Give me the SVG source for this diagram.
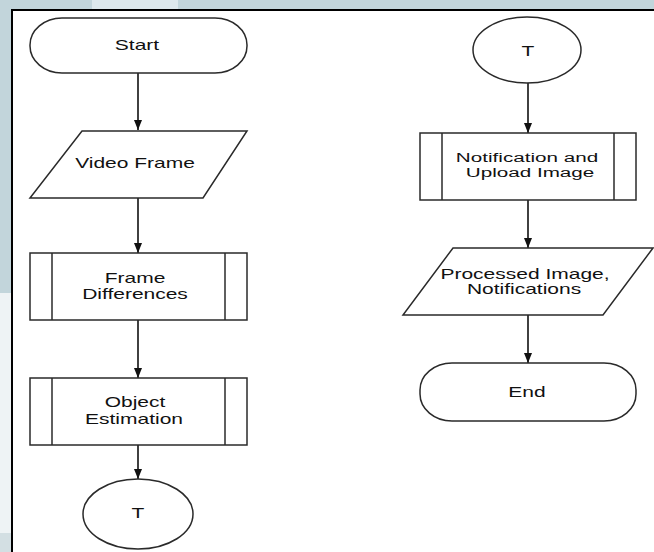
<svg xmlns="http://www.w3.org/2000/svg" width="654" height="552" viewBox="0 0 654 552">
  <defs>
    <style>
      .shape { fill: #ffffff; stroke: #2a2a2a; stroke-width: 1.5; }
      .bar { stroke: #2a2a2a; stroke-width: 1.5; fill: none; }
      .edge { stroke: #111111; stroke-width: 1.6; fill: none; marker-end: url(#arrow); }
      .label { font-family: "Liberation Sans", Arial, Helvetica, sans-serif; font-size: 14px; fill: #111111; text-anchor: middle; }
      .tight { font-size: 13.5px; }
    </style>
    <marker id="arrow" viewBox="0 0 10 8" refX="10" refY="4" markerWidth="10" markerHeight="8" markerUnits="userSpaceOnUse" orient="auto">
      <path d="M0,0 L10,4 L0,8 z" fill="#111111"/>
    </marker>
  </defs>

  <!-- page backdrop and frame -->
  <rect x="0" y="0" width="654" height="552" fill="#c2d5db"/>
  <rect x="92" y="0" width="86" height="9" fill="#dde8ec"/>
  <rect x="0" y="293" width="11" height="240" fill="#eef3f5"/>
  <rect x="0" y="533" width="11" height="19" fill="#d3dfe3"/>
  <rect x="12" y="10" width="642" height="542" fill="#ffffff"/>
  <line x1="11" y1="10" x2="654" y2="10" stroke="#000000" stroke-width="2.2"/>
  <line x1="12" y1="9" x2="12" y2="552" stroke="#000000" stroke-width="2"/>

  <!-- connectors -->
  <g id="connectors">
    <line class="edge" x1="138" y1="73" x2="138" y2="130"/>
    <line class="edge" x1="138" y1="198" x2="138" y2="253"/>
    <line class="edge" x1="138" y1="320" x2="138" y2="378"/>
    <line class="edge" x1="138" y1="445" x2="138" y2="479"/>
    <line class="edge" x1="528" y1="83" x2="528" y2="133"/>
    <line class="edge" x1="528" y1="200" x2="528" y2="248"/>
    <line class="edge" x1="528" y1="315" x2="528" y2="363"/>
  </g>

  <!-- left column -->
  <g id="start">
    <rect class="shape" x="30" y="18" width="217" height="55" rx="32" ry="27"/>
    <text class="label" transform="translate(137 50) scale(1.5 1)">Start</text>
  </g>

  <g id="video-frame">
    <polygon class="shape" points="82,131 247,131 203,198 30,198"/>
    <text class="label" transform="translate(135 168) scale(1.5 1)">Video Frame</text>
  </g>

  <g id="frame-differences">
    <rect class="shape" x="30" y="253" width="217" height="67"/>
    <line class="bar" x1="52" y1="253" x2="52" y2="320"/>
    <line class="bar" x1="225" y1="253" x2="225" y2="320"/>
    <text class="label" transform="translate(135 283) scale(1.5 1)">Frame</text>
    <text class="label" transform="translate(135 299) scale(1.5 1)">Differences</text>
  </g>

  <g id="object-estimation">
    <rect class="shape" x="30" y="378" width="217" height="67"/>
    <line class="bar" x1="52" y1="378" x2="52" y2="445"/>
    <line class="bar" x1="225" y1="378" x2="225" y2="445"/>
    <text class="label" transform="translate(135 407) scale(1.5 1)">Object</text>
    <text class="label" transform="translate(134 424) scale(1.5 1)">Estimation</text>
  </g>

  <g id="connector-t-out">
    <ellipse class="shape" cx="138" cy="514" rx="55" ry="35"/>
    <text class="label" transform="translate(138 518) scale(1.5 1)">T</text>
  </g>

  <!-- right column -->
  <g id="connector-t-in">
    <ellipse class="shape" cx="527" cy="50" rx="54" ry="33"/>
    <text class="label" transform="translate(528 56) scale(1.5 1)">T</text>
  </g>

  <g id="notification-upload">
    <rect class="shape" x="420" y="133" width="216" height="67"/>
    <line class="bar" x1="442" y1="133" x2="442" y2="200"/>
    <line class="bar" x1="614" y1="133" x2="614" y2="200"/>
    <text class="label tight" transform="translate(527 162) scale(1.53 1)">Notification and</text>
    <text class="label tight" transform="translate(530 177) scale(1.53 1)">Upload Image</text>
  </g>

  <g id="processed-output">
    <polygon class="shape" points="453,248 653,248 603,315 403,315"/>
    <text class="label" transform="translate(525 279) scale(1.5 1)">Processed Image,</text>
    <text class="label" transform="translate(524 294) scale(1.5 1)">Notifications</text>
  </g>

  <g id="end">
    <rect class="shape" x="420" y="363" width="216" height="58" rx="32" ry="27"/>
    <text class="label" transform="translate(527 397) scale(1.5 1)">End</text>
  </g>
</svg>
